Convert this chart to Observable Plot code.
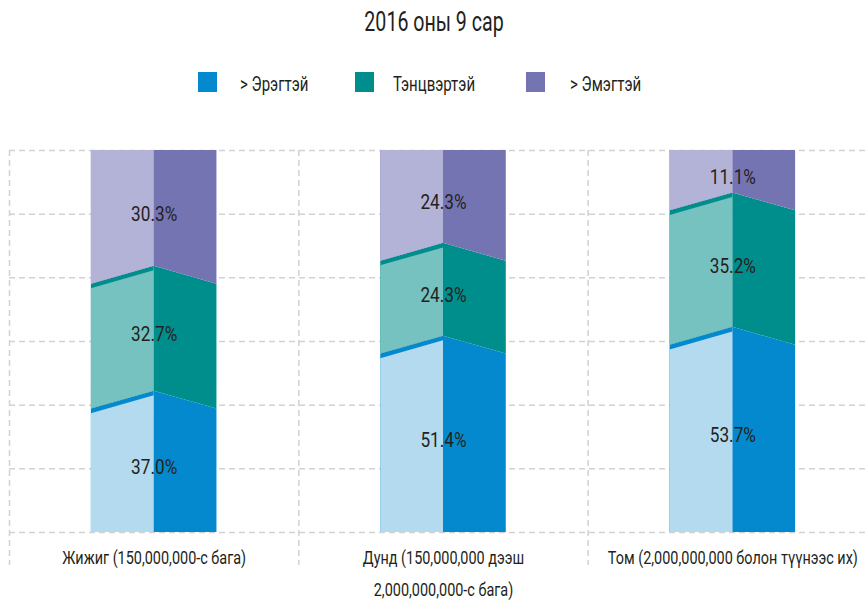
<!DOCTYPE html>
<html><head><meta charset="utf-8">
<script src="https://cdn.jsdelivr.net/npm/d3@7"></script>
<script src="https://cdn.jsdelivr.net/npm/@observablehq/plot@0.6"></script>
<style>
body{margin:0;background:#fff;font-family:Roboto,"Noto Sans",sans-serif;color:#231f20}
#wrap{position:relative;width:868px;height:601px;overflow:hidden}
#title{position:absolute;top:5px;left:0;width:868px;text-align:center;font-size:28px;line-height:34px;transform:scaleX(0.7);transform-origin:434px 0}
.sw{position:absolute;top:72px;width:19px;height:20px}
.lb{position:absolute;top:70px;font-size:20px;line-height:28px;white-space:nowrap;transform:scaleX(0.75);transform-origin:0 0}
#chart{position:absolute;top:0;left:0}
</style></head>
<body><div id="wrap">
<div id="chart"></div>
<div id="title">2016 оны 9 сар</div>
<div id="legend"></div>
</div>
<script>
const categories = ["Жижиг (150,000,000-с бага)", "Дунд (150,000,000 дээш\n2,000,000,000-с бага)", "Том (2,000,000,000 болон түүнээс их)"];
const seriesNames = ["> Эрэгтэй", "Тэнцвэртэй", "> Эмэгтэй"];
const male = [37.0, 51.4, 53.7];
const balanced = [32.7, 24.3, 35.2];
const female = [30.3, 24.3, 11.1];
const darkColors = ["#0489ce", "#008e8d", "#7574b3"];
const lightColors = ["#b3daef", "#76c2c0", "#b3b2d7"];

const series = [male, balanced, female];
const HW = 0.217, SLANT = 4.7, STRIP = 1.2;

// legend
const legend = document.getElementById("legend");
const swX = [198, 355, 526], lbX = [240, 393, 570];
seriesNames.forEach((n, j) => {
  const s = document.createElement("div"); s.className = "sw"; s.style.left = swX[j] + "px"; s.style.background = darkColors[j]; legend.appendChild(s);
  const l = document.createElement("div"); l.className = "lb"; l.style.left = lbX[j] + "px"; l.textContent = n; legend.appendChild(l);
});

// build faces and labels
const faces = [], labels = [];
categories.forEach((cat, i) => {
  const c = i + 0.5;
  let b = 0;
  series.forEach((vals, j) => {
    const t = b + vals[i];
    const first = j === 0, last = j === series.length - 1;
    const Lc = first ? 0 : b, Le = first ? 0 : b - SLANT;
    const Uc = last ? 100 : t, Ue = last ? 100 : t - SLANT;
    const UcL = last ? 100 : t - STRIP, UeL = last ? 100 : t - SLANT - STRIP;
    faces.push({id: `r${i}${j}`, x: c, y1: Lc, y2: Uc, fill: darkColors[j]});
    faces.push({id: `r${i}${j}`, x: c + HW, y1: Le, y2: Ue, fill: darkColors[j]});
    faces.push({id: `s${i}${j}`, x: c - HW, y1: Le, y2: Ue, fill: darkColors[j]});
    faces.push({id: `s${i}${j}`, x: c, y1: Lc, y2: Uc, fill: darkColors[j]});
    faces.push({id: `l${i}${j}`, x: c - HW, y1: Le, y2: UeL, fill: lightColors[j]});
    faces.push({id: `l${i}${j}`, x: c, y1: Lc, y2: UcL, fill: lightColors[j]});
    labels.push({x: c, y: (b + t) / 2, text: vals[i].toFixed(1) + "%"});
    b = t;
  });
});

const gridTicks = d3.range(7).map(k => k * 100 / 6);
const grid = {stroke: "#d2d2d2", strokeWidth: 1.5, strokeDasharray: "6,4"};

const chart = Plot.plot({
  width: 868, height: 601,
  marginTop: 150, marginBottom: 69, marginLeft: 9, marginRight: 0,
  x: {domain: [0, 3], range: [9, 877], axis: null},
  y: {domain: [0, 100], axis: null},
  color: {type: "identity"},
  style: {fontFamily: 'Roboto,"Noto Sans",sans-serif', color: "#231f20", background: "transparent"},
  marks: [
    Plot.ruleY(gridTicks, {y: d => d, ...grid}),
    Plot.ruleX([0, 1, 2], {x: d => d, insetBottom: -33, ...grid}),
    Plot.areaY(faces, {x: "x", y1: "y1", y2: "y2", z: "id", fill: "fill", curve: "linear"}),
    Plot.text(labels, {x: "x", y: "y", text: "text", fontSize: 20, dy: 6, fill: "#231f20"}),
    Plot.text(categories, {x: (d, i) => i + 0.5, frameAnchor: "bottom", text: d => d, dy: 9, lineAnchor: "top", lineHeight: 1.68, fontSize: 19, fill: "#231f20"})
  ]
});
document.getElementById("chart").appendChild(chart);

// condense the text horizontally (narrow typeface look) with a horizontal scale
const textGroups = chart.querySelectorAll('g[aria-label="text"]');
const factors = [0.86, 0.76];
textGroups.forEach((g, gi) => {
  const f = factors[gi] ?? 0.8;
  g.querySelectorAll("text").forEach(t => {
    const tr = t.getAttribute("transform");
    if (tr) {
      t.setAttribute("transform", `${tr} scale(${f},1)`);
    } else {
      const x = +t.getAttribute("x") || 0, y = +t.getAttribute("y") || 0;
      t.removeAttribute("x"); t.removeAttribute("y");
      t.querySelectorAll("tspan").forEach(s => s.setAttribute("x", 0));
      t.setAttribute("transform", `translate(${x},${y}) scale(${f},1)`);
    }
  });
});
</script>
</body></html>
